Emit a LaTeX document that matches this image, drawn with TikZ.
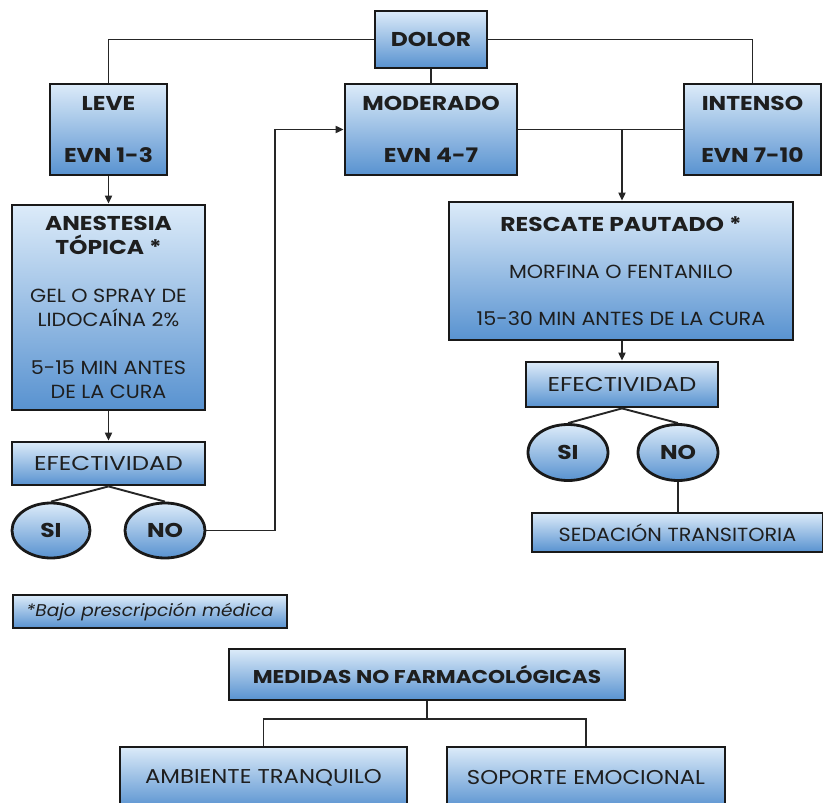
\documentclass[tikz,border=0pt]{standalone}
\usepackage{fontspec}
\setmainfont{Poppins}[FakeStretch=1.09]
\newfontfamily\bdf{Poppins}[FakeStretch=1.17]
\newfontfamily\wdf{Poppins}[FakeStretch=1.22]
\newfontfamily\mdf{Poppins}[FakeStretch=1.14]
\usetikzlibrary{shapes.geometric,arrows.meta}
\definecolor{topblue}{HTML}{DCEBF9}
\definecolor{botblue}{HTML}{5892D0}
\definecolor{txt}{HTML}{1E1E1E}
\tikzset{
  boxbase/.style={draw=black!90, line width=2.8pt, top color=topblue, bottom color=botblue,
    inner sep=0pt, align=center, text=txt},
  bx/.style={boxbase, rectangle, minimum width=#1},
  ov/.style={boxbase, ellipse, minimum width=80pt, minimum height=56pt},
  conn/.style={line width=1.9pt, draw=black!85},
  arr/.style={conn, -{Triangle[length=8pt,width=7pt]}},
  hb/.style={font=\fontsize{20}{26}\selectfont\bdf\bfseries},
  rg/.style={font=\fontsize{19}{24}\selectfont},
  ef/.style={font=\fontsize{20}{24}\selectfont\wdf},
  md/.style={font=\fontsize{20}{24}\selectfont\mdf},
}
\begin{document}
\begin{tikzpicture}[x=1pt,y=-1pt]
\clip (0,0) rectangle (823,803);
\fill[white] (0,0) rectangle (823,803);
% top level
\node[bx=112pt, minimum height=57pt, hb] (dolor) at (431,39.5) {DOLOR};
\node[bx=117pt, minimum height=91pt, hb] (leve) at (108.5,129.5) {LEVE\\[26pt]EVN 1-3};
\node[bx=172pt, minimum height=91pt, hb] (mod) at (431,129.5) {MODERADO\\[26pt]EVN 4-7};
\node[bx=137pt, minimum height=91pt, hb] (intenso) at (752.5,129.5) {INTENSO\\[26pt]EVN 7-10};
% left branch
\node[bx=193pt, minimum height=205pt, rg] (anest) at (108.5,307.5)
  {{\bdf\bfseries\fontsize{20}{26}\selectfont ANESTESIA}\\{\bdf\bfseries\fontsize{20}{26}\selectfont TÓPICA *}\\[24pt]
   GEL O SPRAY DE\\LIDOCAÍNA 2\%\\[24pt]5-15 MIN ANTES\\DE LA CURA};
\node[bx=193pt, minimum height=43pt, ef] (efec1) at (108.5,463.5) {EFECTIVIDAD};
\node[ov, minimum width=78pt, minimum height=55pt, hb] (si1) at (51,530.5) {SI};
\node[ov, minimum height=55pt, hb] (no1) at (165,530.5) {NO};
% right branch
\node[bx=344pt, minimum height=138pt, rg] (resc) at (621,271)
  {{\bdf\bfseries\fontsize{20}{26}\selectfont RESCATE PAUTADO *}\\[23pt]MORFINA O FENTANILO\\[23pt]15-30 MIN ANTES DE LA CURA};
\node[bx=192pt, minimum height=45pt, ef] (efec2) at (622,384.5) {EFECTIVIDAD};
\node[ov, hb] (si2) at (568,452.5) {SI};
\node[ov, hb] (no2) at (678,452.5) {NO};
\node[bx=291pt, minimum height=39pt, rg] (sed) at (677.5,532.5) {SEDACIÓN TRANSITORIA};
% note
\node[bx=274pt, minimum height=33pt, font=\fontsize{17}{20}\selectfont\itshape] (nota) at (150,611.5) {*Bajo prescripción médica};
% bottom
\node[bx=396pt, minimum height=51pt, font=\fontsize{18.5}{24}\selectfont\bdf\bfseries] (medidas) at (427,674.5) {MEDIDAS NO FARMACOLÓGICAS};
\node[bx=287pt, minimum height=62pt, md] (amb) at (263.5,778) {AMBIENTE TRANQUILO};
\node[bx=278pt, minimum height=62pt, md] (sop) at (586,778) {SOPORTE EMOCIONAL};
% connectors
\draw[conn] (dolor.west) -| (leve.north);
\draw[conn] (dolor.east) -| (intenso.north);
\draw[conn] (dolor.south) -- (mod.north);
\coordinate (j1) at (622,129.5);
\draw[conn] (mod.east) -- (intenso.west);
\draw[arr] (j1) -- (j1 |- resc.north);
\draw[arr] (leve.south) -- (anest.north);
\draw[arr] (anest.south) -- (efec1.north);
\draw[conn] (efec1.south) -- (si1.north);
\draw[conn] (efec1.south) -- (no1.north);
\coordinate (k1) at (275,530.5);
\draw[arr] (no1.east) -- (k1) |- (mod.west);
\draw[arr] (efec2.north |- resc.south) -- (efec2.north);
\draw[conn] (efec2.south) -- (si2.north);
\draw[conn] (efec2.south) -- (no2.north);
\draw[conn] (no2.south) -- (no2.south |- sed.north);
\coordinate (m1) at (427,719);
\draw[conn] (medidas.south) -- (m1);
\draw[conn] (m1) -| (amb.north);
\draw[conn] (m1) -| (sop.north);
\end{tikzpicture}
\end{document}
